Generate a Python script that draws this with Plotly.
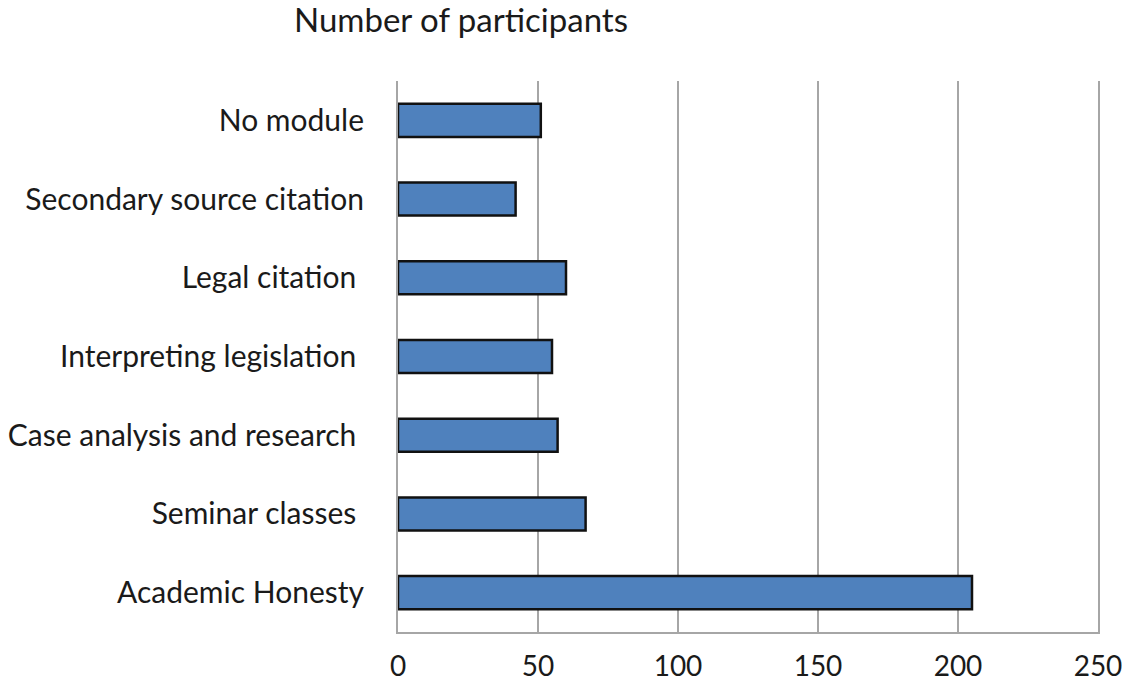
import plotly.graph_objects as go

categories = ["Academic Honesty", "Seminar classes ", "Case analysis and research ",
              "Interpreting legislation ", "Legal citation ", "Secondary source citation",
              "No module"]
participants = [205, 67, 57, 55, 60, 42, 51]
x_ticks = [0, 50, 100, 150, 200, 250]

FONT = "Lato, 'Open Sans', sans-serif"
GRID = "#a6a6a6"

fig = go.Figure(go.Bar(
    x=participants, y=categories, orientation="h",
    marker=dict(color="#4f81bd", line=dict(color="#111111", width=2.5)),
    width=0.42,
))

fig.update_layout(
    width=1122, height=686,
    margin=dict(l=398, r=24, t=81, b=54, autoexpand=False),
    paper_bgcolor="white", plot_bgcolor="white",
    showlegend=False,
    font=dict(family=FONT, size=30, color="#1a1a1a"),
    annotations=[dict(text="Number of participants", xref="paper", yref="paper",
                      x=(461 - 398) / 700, y=1, yshift=62, xanchor="center",
                      yanchor="middle", showarrow=False,
                      font=dict(family=FONT, size=33, color="#1a1a1a"))],
)
fig.update_xaxes(
    range=[0, 250], tickvals=x_ticks, showgrid=True, gridcolor=GRID, gridwidth=2,
    showline=True, linecolor=GRID, linewidth=2, zeroline=False, automargin=False,
    ticks="", ticklabelstandoff=8, ticklabeloverflow="allow", tickfont=dict(size=28),
)
fig.update_yaxes(
    categoryorder="array", categoryarray=categories, automargin=False,
    showline=True, mirror=True, linecolor=GRID, linewidth=2,
    showgrid=False, ticks="", ticklabelstandoff=26, ticklabeloverflow="allow",
    tickfont=dict(size=30),
)

fig.write_html(
    "out.html",
    config={"displayModeBar": False},
    post_script="document.body.style.margin='0';document.body.style.overflow='hidden';",
)
